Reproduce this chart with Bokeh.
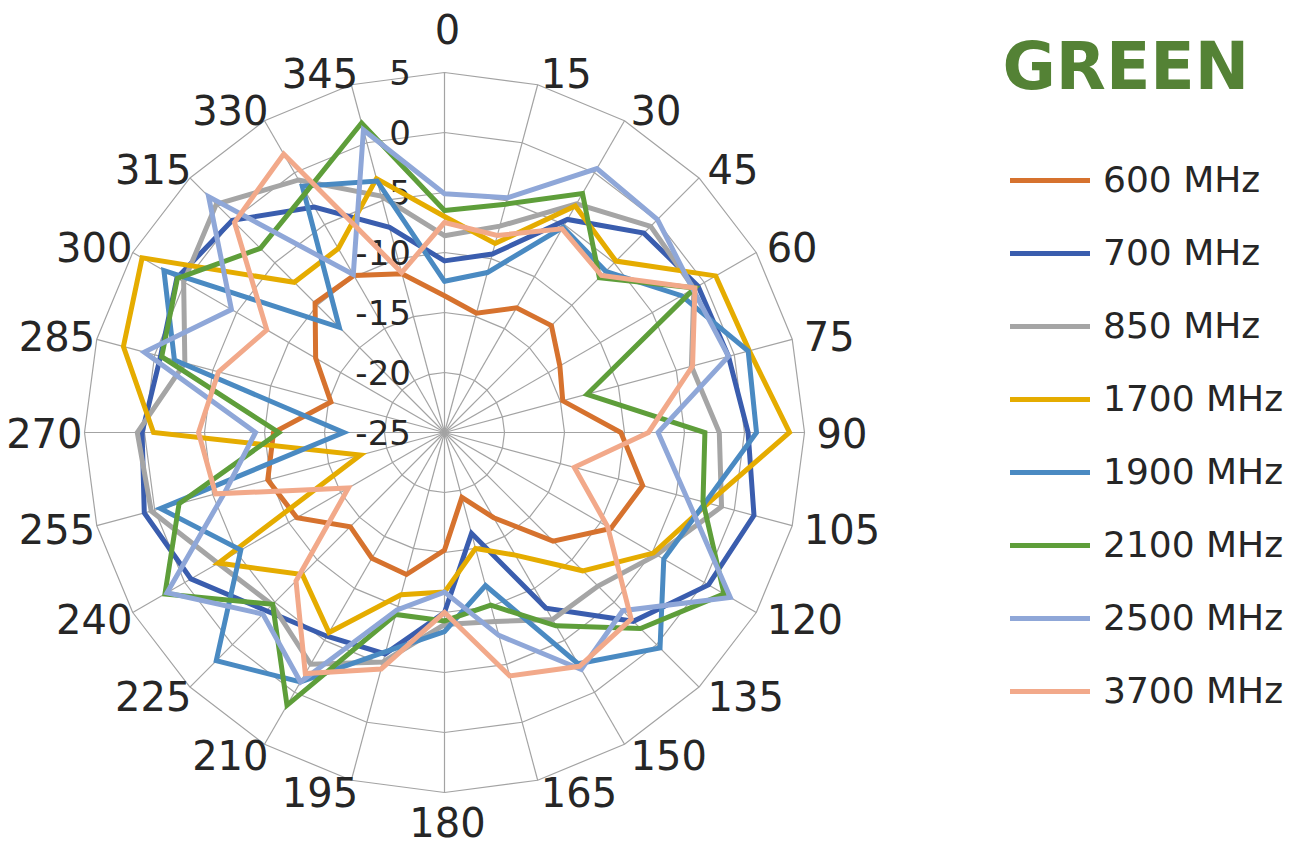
import numpy as np
from bokeh.plotting import figure
from bokeh.models import Range1d, Legend, LegendItem
from bokeh.embed import file_html
from bokeh.resources import INLINE
from bokeh.core.properties import value

# ---------------- data ----------------
angles = list(range(0, 360, 15))
angle_labels = [str(a) for a in angles]
ring_values = [-25, -20, -15, -10, -5, 0, 5]
ring_labels = [str(v) for v in ring_values]

series_names = ["600 MHz", "700 MHz", "850 MHz", "1700 MHz",
                "1900 MHz", "2100 MHz", "2500 MHz", "3700 MHz"]

s600 = [-13.6, -14.7, -13.0, -12.4, -13.9, -14.8, -10.3, -7.9, -9.0, -12.2, -16.8, -19.4,
        -15.2, -12.75, -12.9, -13.9, -10.8, -9.75, -10.75, -15.2, -12.6, -9.75, -9.9, -11.3]
s700 = [-10.7, -9.6, -4.5, -1.5, -0.6, -0.5, 0.3, 1.7, 0.4, -2.75, -8.1, -16.3,
        -10.0, -5.9, -5.4, -4.0, -0.6, 0.9, 0.2, -0.5, 0.75, 0.0, -3.3, -7.3]
s850 = [-8.6, -7.2, -3.0, -0.7, -1.0, -3.7, -2.1, -1.1, -4.6, -6.9, -7.0, -8.7,
        -9.0, -5.2, -2.7, -4.7, -3.2, 0.3, 0.6, -2.6, 0.1, 1.9, -0.7, -4.6]
s1700 = [-7.0, -8.7, -3.2, -4.8, 1.1, 1.3, 3.75, -2.25, -4.9, -8.7, -13.2, -15.0,
         -11.7, -11.0, -5.75, -8.25, -3.25, -17.75, -0.75, 2.7, 4.1, -7.3, -7.3, -3.1]
s1900 = [-12.4, -11.2, -5.25, -6.0, -2.2, 1.2, 1.0, -2.5, -3.9, 0.4, -2.75, -11.8,
         -8.4, -6.1, -1.0, 1.9, -5.4, -0.5, -16.6, -1.7, 2.0, -12.6, -1.3, -3.3]
s2100 = [-6.5, -5.3, -2.0, -6.75, -0.9, -12.7, -3.3, -2.7, 1.9, -1.9, -6.4, -10.1,
         -9.3, -9.3, 1.25, -4.75, 1.9, -2.1, -11.2, -0.6, 0.7, -3.3, -1.9, 1.7]
s2500 = [-5.1, -4.75, 0.4, 0.1, -1.1, -0.5, -7.2, -4.1, 2.5, -4.0, -2.2, -7.5,
         -11.7, -9.7, -1.0, -3.6, 1.7, -6.1, -9.25, 0.9, -4.5, 2.8, -9.8, 1.1]
s3700 = [-7.5, -8.0, -5.4, -6.5, -0.9, -3.6, -8.0, -13.8, -9.3, -3.0, -2.5, -4.0,
         -10.0, -4.6, -1.8, -7.5, -15.75, -5.25, -4.5, -5.5, -7.9, -0.25, 1.8, -11.2]

series_values = [s600, s700, s850, s1700, s1900, s2100, s2500, s3700]
series_colors = ["#D6722E", "#3A5DAE", "#A5A5A5", "#E5AC00",
                 "#4A8AC2", "#5E9E3A", "#8FA7D8", "#F2A98A"]

# ---------------- layout ----------------
W, H = 1313, 846
CX, CY = 444, 432        # chart centre in figure pixels
PX = 12.0                # pixels per dB
R_MIN = ring_values[0]
R_MAX = ring_values[-1]
FONT = "DejaVu Sans"
TXT = "#262626"
GRID = "#A3A3A3"

p = figure(width=W, height=H,
           x_range=Range1d(-CX / PX, (W - CX) / PX),
           y_range=Range1d(-(H - CY) / PX, CY / PX),
           output_backend="svg", toolbar_location=None,
           x_axis_location=None, y_axis_location=None,
           min_border=0)
p.xgrid.visible = False
p.ygrid.visible = False
p.outline_line_color = None
p.background_fill_color = "white"

th = np.radians(angles)


def polar(vals):
    r = np.asarray(vals, dtype=float) - R_MIN
    return r * np.sin(th), r * np.cos(th)


# rings
ring_xs, ring_ys = [], []
for v in ring_values:
    x, y = polar([v] * len(angles))
    ring_xs.append(list(x) + [x[0]])
    ring_ys.append(list(y) + [y[0]])
p.multi_line(ring_xs, ring_ys, line_color=GRID, line_width=1.2)

# spokes
sx, sy = polar([R_MAX] * len(angles))
p.multi_line([[0, a] for a in sx], [[0, b] for b in sy], line_color=GRID, line_width=1.2)

# angle labels, placed just outside the outer ring
groups = {"top": [], "bottom": [], "right": [], "left": []}
for i, a in enumerate(angles):
    if a == 0:
        groups["top"].append(i)
    elif a == 180:
        groups["bottom"].append(i)
    elif a < 180:
        groups["right"].append(i)
    else:
        groups["left"].append(i)
# (align, baseline, label radius px, x shift px)
specs = {"top": ("center", "bottom", 389, 3),
         "bottom": ("center", "middle", 389, 3),
         "right": ("left", "middle", 372, 0),
         "left": ("right", "middle", 372, 10)}
for g, idx in groups.items():
    al, bl, rad, dx = specs[g]
    p.text([rad / PX * np.sin(th[i]) + dx / PX for i in idx],
           [rad / PX * np.cos(th[i]) for i in idx],
           text=[angle_labels[i] for i in idx],
           text_align=al, text_baseline=bl,
           text_font=value(FONT), text_font_size="40px", text_color=TXT)

# radial labels
p.text([-2.8] * len(ring_values), [v - R_MIN for v in ring_values], text=ring_labels,
       text_align="right", text_baseline="middle",
       text_font=value(FONT), text_font_size="34px", text_color=TXT)

# series
items = []
for name, vals, col in zip(series_names, series_values, series_colors):
    x, y = polar(vals)
    r = p.line(list(x) + [x[0]], list(y) + [y[0]], line_color=col, line_width=5,
               line_join="miter", line_cap="round")
    items.append(LegendItem(label=name, renderers=[r]))

# title
p.text([(1002 - CX) / PX], [(CY - 66) / PX], text=["GREEN"],
       text_align="left", text_baseline="middle",
       text_font=value(FONT), text_font_style="bold", text_font_size="65px",
       text_color="#548235")

legend = Legend(items=items, location=(1010, 135), orientation="vertical",
                glyph_width=80, glyph_height=40, label_height=40,
                label_standoff=13, spacing=32, padding=0, margin=0,
                border_line_color=None, background_fill_alpha=0,
                label_text_font=FONT, label_text_font_size="36px",
                label_text_color=TXT)
p.add_layout(legend)

open("out.html", "w").write(file_html(p, INLINE))
